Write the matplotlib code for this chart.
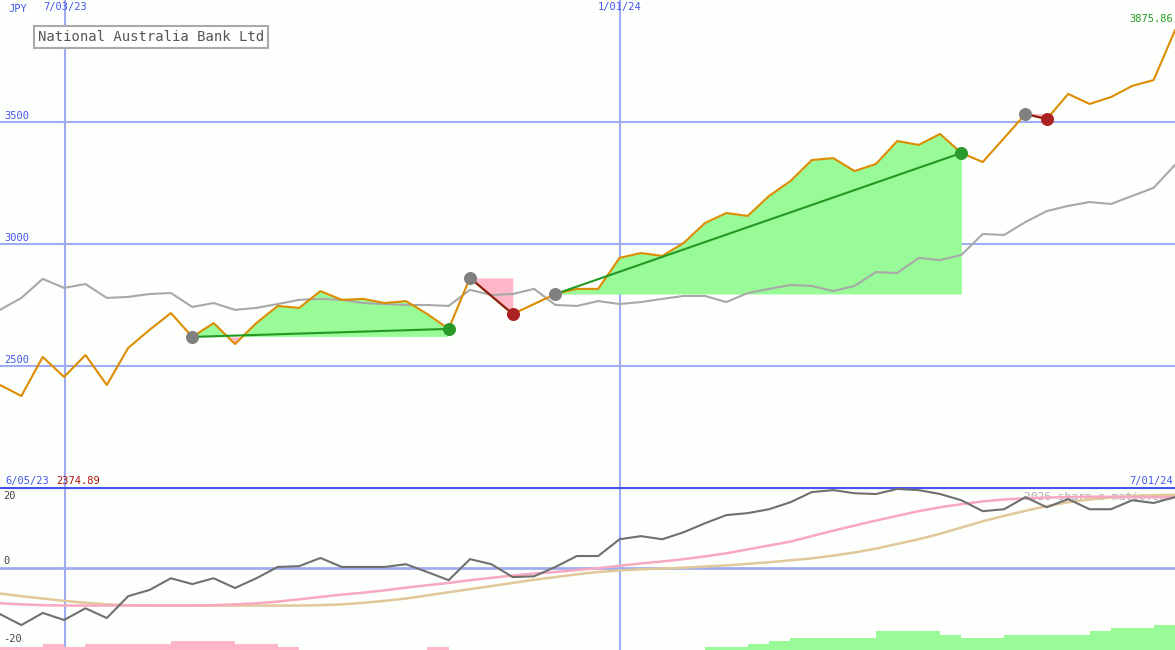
import numpy as np
import matplotlib.pyplot as plt

# weekly closes (JPY)
price = [2422, 2377, 2537, 2455, 2545, 2422, 2574, 2648, 2717, 2619, 2676, 2590, 2676, 2746,
         2738, 2807, 2771, 2775, 2758, 2766, 2713, 2652, 2861, 2787, 2713, 2754, 2795, 2816,
         2816, 2943, 2963, 2951, 3004, 3086, 3127, 3115, 3197, 3258, 3344, 3352, 3299, 3328,
         3422, 3406, 3451, 3373, 3336, 3434, 3533, 3512, 3615, 3574, 3602, 3648, 3672, 3875.86]
ma_long = [2730, 2779, 2857, 2820, 2836, 2779, 2783, 2795, 2799, 2742, 2758, 2730, 2738, 2754,
           2771, 2775, 2771, 2758, 2754, 2750, 2750, 2746, 2812, 2791, 2795, 2816, 2750, 2746,
           2766, 2754, 2762, 2775, 2787, 2787, 2762, 2799, 2816, 2832, 2828, 2807, 2828, 2885,
           2881, 2943, 2934, 2955, 3041, 3037, 3090, 3135, 3156, 3172, 3164, 3197, 3230, 3324]
# trades: (entry index, exit index)
trades = [(9, 21), (22, 24), (26, 45), (48, 49)]

osc = [-11.8, -14.6, -11.5, -13.3, -10.3, -12.8, -7.2, -5.6, -2.6, -4.1, -2.6, -5.1, -2.6, 0.3,
       0.5, 2.6, 0.3, 0.3, 0.3, 1.0, -1.0, -3.1, 2.3, 1.0, -2.3, -2.1, 0.3, 3.1, 3.1, 7.4, 8.2,
       7.4, 9.2, 11.5, 13.6, 14.1, 15.1, 16.9, 19.5, 20.0, 19.2, 19.0, 20.3, 20.0, 19.0, 17.4,
       14.6, 15.1, 18.2, 15.6, 17.7, 15.1, 15.1, 17.4, 16.7, 18.2]
osc_fast = [-9.0, -9.3, -9.5, -9.6, -9.6, -9.6, -9.6, -9.6, -9.6, -9.6, -9.5, -9.3, -9.0, -8.6,
            -8.0, -7.4, -6.8, -6.3, -5.7, -5.0, -4.4, -3.8, -3.1, -2.5, -1.9, -1.4, -1.0, -0.5,
            0.0, 0.6, 1.2, 1.7, 2.3, 3.0, 3.8, 4.8, 5.8, 6.8, 8.2, 9.6, 10.9, 12.2, 13.4, 14.6,
            15.6, 16.4, 17.1, 17.6, 17.9, 18.1, 18.2, 18.3, 18.3, 18.2, 18.2, 18.2]
osc_slow = [-6.5, -7.2, -7.8, -8.4, -8.9, -9.3, -9.5, -9.6, -9.6, -9.6, -9.6, -9.6, -9.6, -9.6,
            -9.6, -9.5, -9.3, -8.9, -8.4, -7.8, -7.0, -6.2, -5.4, -4.6, -3.8, -3.0, -2.3, -1.6,
            -1.0, -0.6, -0.3, -0.1, 0.1, 0.4, 0.7, 1.1, 1.5, 2.0, 2.5, 3.2, 4.0, 5.0, 6.2, 7.4,
            8.8, 10.4, 12.0, 13.4, 14.7, 15.9, 16.9, 17.6, 18.1, 18.5, 18.7, 18.8]
hist = [-0.8, -0.8, -1.5, -0.8, -1.5, -1.5, -1.5, -1.5, -2.3, -2.3, -2.3, -1.5, -1.5, -0.8,
        0, 0, 0, 0, 0, 0, -0.8, 0, 0, 0, 0, 0, 0, 0, 0, 0, 0, 0, 0, 0.8, 0.8, 1.5, 2.3, 3.1,
        3.1, 3.1, 3.1, 4.9, 4.9, 4.9, 3.8, 3.1, 3.1, 3.8, 3.8, 3.8, 3.8, 4.9, 5.6, 5.6, 6.4]
date_pos = [3.04, 29.0]
date_labels = ['7/03/23', '1/01/24']

BG = '#fcfffc'
GRID = '#a0acf0'
BLUE = '#4455ee'
MONO = 'DejaVu Sans Mono'

fig = plt.figure(figsize=(11.75, 6.5), dpi=100, facecolor=BG)
ax = fig.add_axes([0, 163 / 650, 1, 487 / 650], facecolor=BG)
ax2 = fig.add_axes([0, 0, 1, 163 / 650], facecolor=BG)

x = np.arange(len(price))
p = np.array(price)
ax.set_xlim(0, 55)
ax.set_ylim(2004, 4000)
for lvl in [2500, 3000, 3500]:
    ax.axhline(lvl, color=GRID, lw=1.5, zorder=1)
    ax.text(0.2, lvl + 14, str(lvl), color=BLUE, fontsize=7.5, family=MONO)
for xv, lab in zip(date_pos, date_labels):
    ax.axvline(xv, color=GRID, lw=1.5, zorder=1)
    ax2.axvline(xv, color=GRID, lw=1.5, zorder=1)
    ax.text(xv, 3990, lab, ha='center', va='top', color=BLUE, fontsize=7.5, family=MONO)

for a, b in trades:
    seg = slice(a, b + 1)
    lvl = p[a]
    ax.fill_between(x[seg], lvl, p[seg], where=p[seg] >= lvl, interpolate=True,
                    color='#98fb98', lw=0, zorder=2)
    ax.fill_between(x[seg], lvl, p[seg], where=p[seg] < lvl, interpolate=True,
                    color='#ffb6c8', lw=0, zorder=2)
    win = p[b] > p[a]
    ax.plot([a, b], [p[a], p[b]], color='#229922' if win else '#8b1a1a', lw=1.5, zorder=4)

ax.plot(x, ma_long, color='#a8a8a8', lw=1.5, zorder=3)
ax.plot(x, price, color='#dd8c00', lw=1.5, zorder=3)
for a, b in trades:
    win = p[b] > p[a]
    ax.scatter([a], [p[a]], s=70, color='#808080', zorder=5)
    ax.scatter([b], [p[b]], s=70, color='#2a9a2a' if win else '#aa2222', zorder=5)

ax.text(0.007, 0.975, 'JPY', transform=ax.transAxes, color=BLUE, fontsize=7.5, family=MONO)
ax.text(0.998, 0.955, '3875.86', transform=ax.transAxes, ha='right', color='#229922',
        fontsize=7.5, family=MONO)
ax.text(38 / 1175, 1 - 37 / 487, 'National Australia Bank Ltd', transform=ax.transAxes,
        va='center', fontsize=10, color='#555555', family=MONO,
        bbox=dict(facecolor='white', edgecolor='#aaaaaa', lw=1.5, boxstyle='square,pad=0.3'))
ax.text(0.005, 0.006, '6/05/23', transform=ax.transAxes, color=BLUE, fontsize=7.5, family=MONO)
ax.text(56 / 1175, 0.006, '2374.89', transform=ax.transAxes, color='#aa1111', fontsize=7.5,
        family=MONO)
ax.text(0.998, 0.006, '7/01/24', transform=ax.transAxes, ha='right', color=BLUE,
        fontsize=7.5, family=MONO)
ax.axis('off')

# oscillator panel
ax2.set_xlim(0, 55)
ax2.set_ylim(-21, 20.8)
ax2.axhline(0, color=GRID, lw=2, zorder=1)
ax2.axhline(20.8, color=BLUE, lw=3, zorder=1)
hx = np.arange(len(hist))
hv = np.array(hist)
ax2.bar(hx, np.abs(hv), bottom=-21, width=1, align='edge',
        color=np.where(hv < 0, '#ffb6c8', '#98fb98'), lw=0, zorder=2)
ax2.plot(np.arange(len(osc_slow)), osc_slow, color='#e0c89a', lw=1.8, zorder=3)
ax2.plot(np.arange(len(osc_fast)), osc_fast, color='#f8a8c0', lw=1.8, zorder=3)
ax2.plot(np.arange(len(osc)), osc, color='#707070', lw=1.5, zorder=4)
for v in [20, 0, -20]:
    ax2.text(0.15, v + 0.6 if v < 20 else v - 0.3, str(v), va='bottom' if v < 20 else 'top',
             color='#444444', fontsize=7.5, family=MONO)
ax2.text(0.998, 0.97, '2026 share-o-matic.com', transform=ax2.transAxes, ha='right',
         va='top', color='#aaaaaa', fontsize=8, family=MONO, zorder=1)
ax2.axis('off')

fig.savefig('out.png', dpi=100, facecolor=BG)
